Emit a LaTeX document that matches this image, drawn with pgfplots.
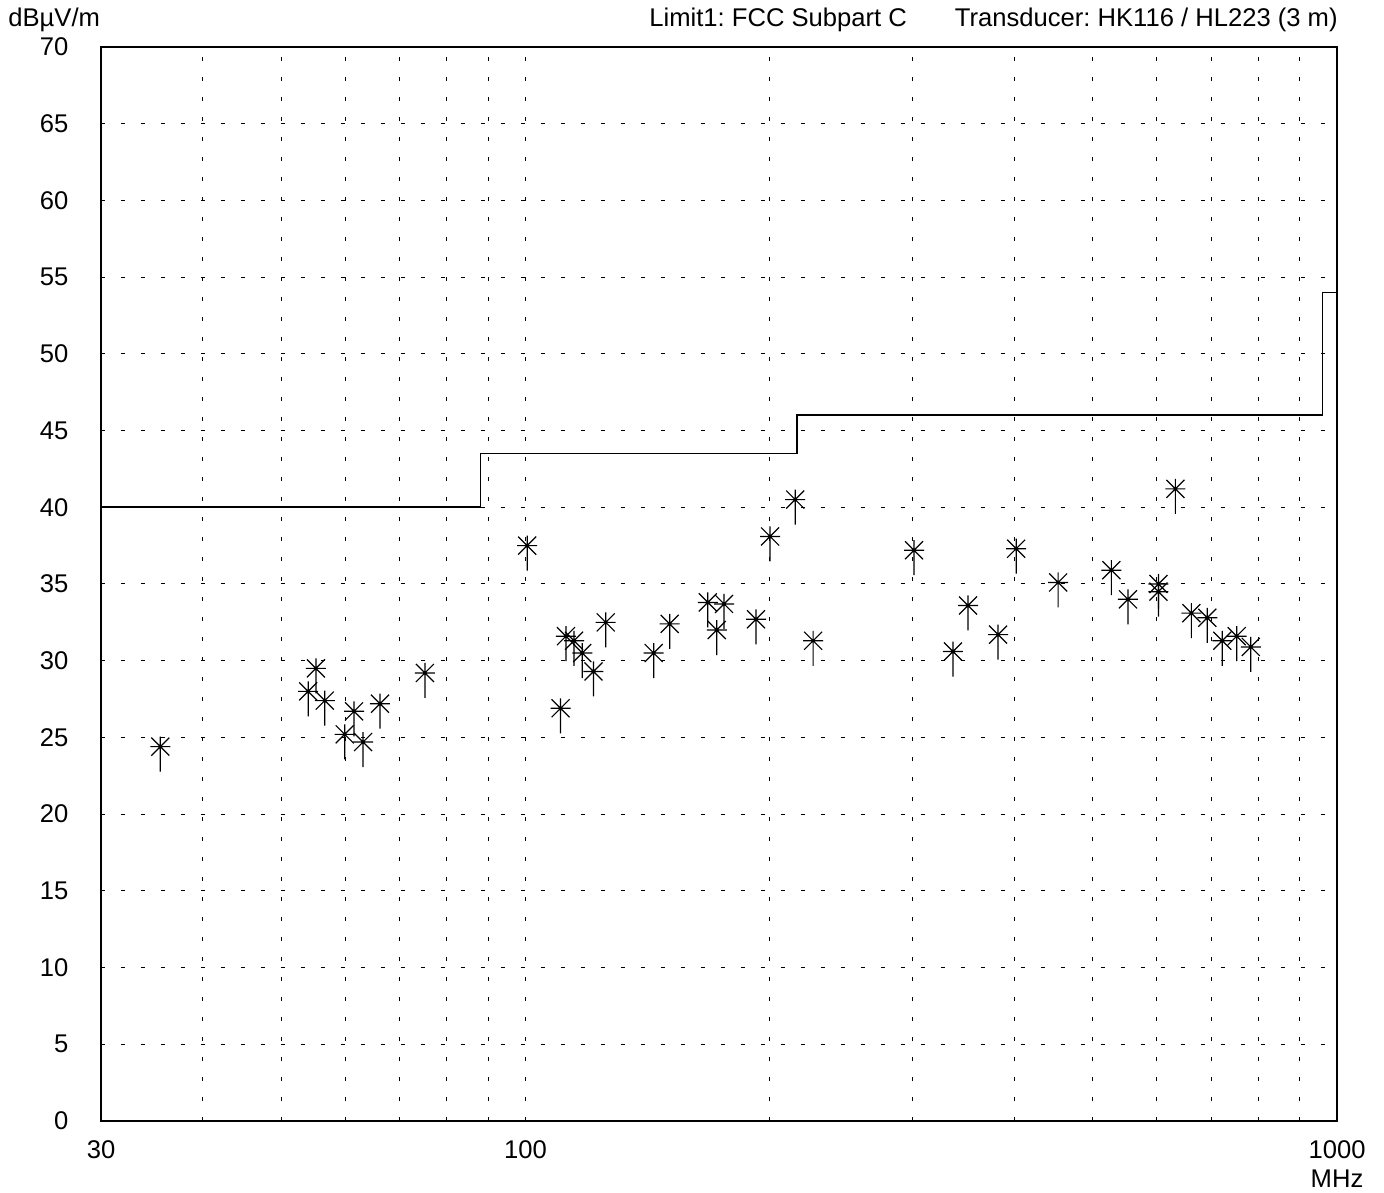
\documentclass[border=0pt]{standalone}
\usepackage{pgfplots}
\pgfplotsset{compat=1.18}
\usepackage{fontspec}
\setmainfont{Liberation Sans}
\frenchspacing

% star with a stem going down, as the receiver software draws it
\pgfdeclareplotmark{emi}{%
  \pgfpathmoveto{\pgfqpoint{-5pt}{0pt}}\pgfpathlineto{\pgfqpoint{5pt}{0pt}}%
  \pgfpathmoveto{\pgfqpoint{0pt}{5pt}}\pgfpathlineto{\pgfqpoint{0pt}{-12.5pt}}%
  \pgfpathmoveto{\pgfqpoint{-4.5pt}{-4.5pt}}\pgfpathlineto{\pgfqpoint{4.5pt}{4.5pt}}%
  \pgfpathmoveto{\pgfqpoint{-4.5pt}{4.5pt}}\pgfpathlineto{\pgfqpoint{4.5pt}{-4.5pt}}%
  \pgfusepathqstroke}

\pgfplotstableread{
f      lvl
35.5   24.4
54.0   28.0
55.2   29.5
56.6   27.4
59.9   25.2
61.5   26.7
63.1   24.7
66.2   27.2
75.2   29.2
100.5  37.5
110.5  26.9
112.2  31.6
114.8  31.3
117.5  30.5
121.3  29.3
125.6  32.5
143.9  30.5
150.6  32.4
167.8  33.8
172.1  32.0
175.7  33.7
192.4  32.7
200.2  38.1
215.0  40.5
226.2  31.3
301.2  37.2
336.4  30.6
351.1  33.6
382.3  31.7
402.4  37.3
453.3  35.1
527.2  35.9
552.6  34.0
602.5  35.0
602.5  34.5
632.2  41.2
661.5  33.1
692.2  32.8
722.2  31.3
752.4  31.6
783.1  30.9
}\peaks

\newcommand\lbl{\fontsize{12.8pt}{15pt}\selectfont}

\begin{document}
\begin{tikzpicture}
\path[use as bounding box] (-50.5pt,-35.5pt) rectangle (641.5pt,560.5pt);
\begin{axis}[
  at={(0,0)}, anchor=south west,
  scale only axis, width=618pt, height=537pt,
  xmode=log, xmin=30, xmax=1000, ymin=0, ymax=70,
  xtick={30,100,1000}, xticklabels={30,100,1000},
  minor xtick={40,50,60,70,80,90,200,300,400,500,600,700,800,900},
  ytick={0,5,...,70},
  grid=both,
  major grid style={black, line width=0.5pt, dash pattern=on 2pt off 8pt},
  minor grid style={black, line width=0.5pt, dash pattern=on 2pt off 8pt},
  major tick length=0pt, minor tick length=0pt,
  axis line style={black, line width=0.7pt},
  tick label style={font=\lbl},
  /pgf/number format/assume math mode=true,
  xticklabel style={yshift=-6.5pt},
  yticklabel style={xshift=-12.8pt},
]
\addplot[black, line width=0.8pt, const plot, mark=none]
  coordinates {(30,40) (88,43.5) (216,46) (960,54) (1000,54)};
\addplot[only marks, mark=emi, black, line width=0.6pt] table[x=f, y=lvl] {\peaks};
\end{axis}
\node[anchor=base west, font=\lbl, inner sep=0pt] at (-46.5pt,547pt) {dBµV/m};
\node[anchor=base west, font=\lbl, inner sep=0pt] at (274pt,547pt) {Limit1: FCC Subpart C};
\node[anchor=base east, font=\lbl, inner sep=0pt] at (618.5pt,547pt) {Transducer: HK116 / HL223 (3 m)};
\node[anchor=base, font=\lbl, inner sep=0pt] at (618pt,-33pt) {MHz};
\end{tikzpicture}
\end{document}
